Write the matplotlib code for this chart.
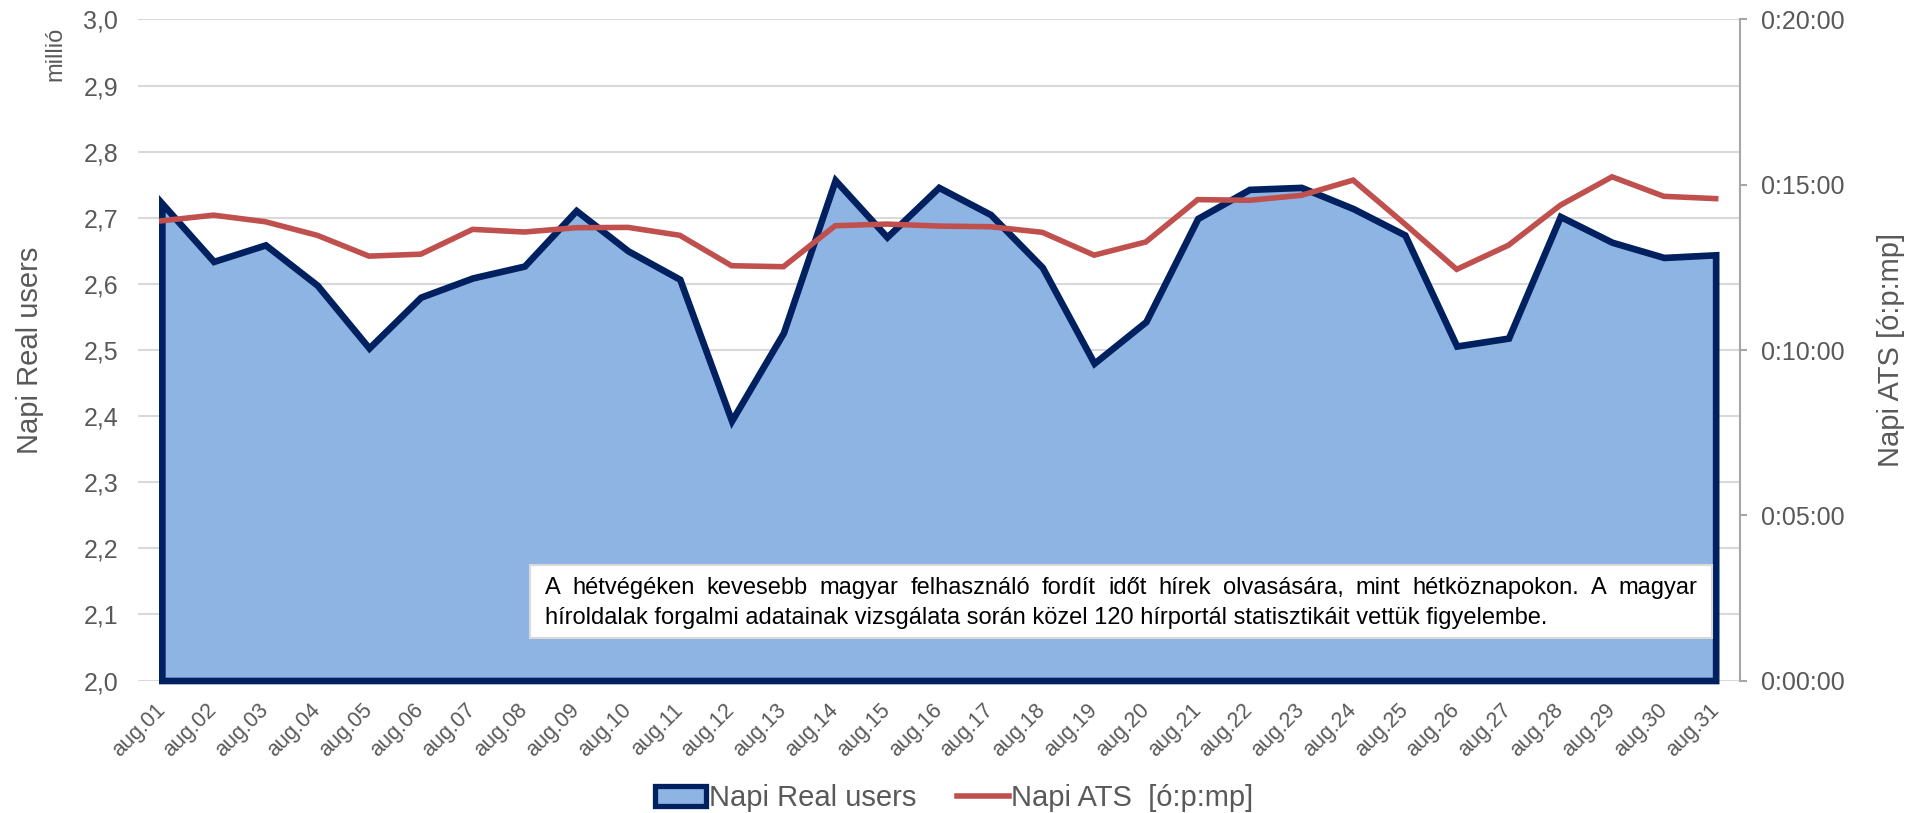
import matplotlib
matplotlib.use("Agg")
import matplotlib.pyplot as plt
import matplotlib.patches as mpatches
from matplotlib.lines import Line2D
from matplotlib.ticker import FuncFormatter, MultipleLocator
import numpy as np

plt.rcParams['font.family'] = ['Liberation Sans', 'DejaVu Sans']

# data
days = ["aug.%02d" % d for d in range(1, 32)]
users = [2.722, 2.634, 2.659, 2.598, 2.503, 2.580, 2.609, 2.627, 2.711, 2.650,
         2.607, 2.393, 2.526, 2.757, 2.671, 2.746, 2.705, 2.625, 2.480, 2.543,
         2.699, 2.743, 2.746, 2.714, 2.674, 2.506, 2.518, 2.702, 2.663, 2.640,
         2.644]
# average time spent, minutes
ats_min = [13.91, 14.08, 13.88, 13.47, 12.84, 12.90, 13.65, 13.57, 13.70, 13.71,
           13.47, 12.55, 12.52, 13.76, 13.81, 13.75, 13.73, 13.56, 12.87, 13.27,
           14.55, 14.53, 14.68, 15.14, 13.81, 12.44, 13.17, 14.38, 15.24, 14.65,
           14.58]

note_line1 = "A hétvégéken kevesebb magyar felhasználó fordít időt hírek olvasására, mint hétköznapokon. A magyar"
note_line2 = "híroldalak forgalmi adatainak vizsgálata során közel 120 hírportál statisztikáit vettük figyelembe."

AREA = '#8EB4E3'
NAVY = '#002060'
RED = '#C0504D'
GREY = '#595959'

W, H = 1909, 813
fig = plt.figure(figsize=(W / 100, H / 100), dpi=100)
ax = fig.add_axes([137.5 / W, 1 - 680.5 / H, (1740 - 137.5) / W, (680.5 - 19.5) / H])
ax2 = ax.twinx()

x = np.arange(len(days))
ats_sec = np.array(ats_min) * 60

ax.fill_between(x, 2.0, users, facecolor=AREA, edgecolor=NAVY, linewidth=4.8,
                joinstyle='miter', clip_on=False, zorder=2)
ax2.plot(x, ats_sec, color=RED, linewidth=4.0, solid_joinstyle='miter', zorder=3)

ax.set_xlim(-0.47, 30.47)
ax.set_ylim(2.0, 3.0)
ax2.set_ylim(0, 1200)

ax.set_axisbelow(True)
ax.yaxis.set_major_locator(MultipleLocator(0.1))
ax.yaxis.set_major_formatter(FuncFormatter(lambda v, p: ("%.1f" % v).replace('.', ',')))
ax.grid(axis='y', color='#D9D9D9', linewidth=1.5)
ax.tick_params(axis='y', length=0, pad=14, labelsize=18, labelcolor=GREY)

ax.set_xticks(x)
ax.set_xticklabels(days, rotation=45, ha='right', va='center', rotation_mode='anchor')
ax.tick_params(axis='x', length=0, pad=19, labelsize=15.5, labelcolor=GREY)

for s in ['top', 'left', 'right', 'bottom']:
    ax.spines[s].set_visible(False)
for s in ['top', 'left', 'bottom']:
    ax2.spines[s].set_visible(False)
ax2.spines['right'].set_color('#A6A6A6')
ax2.spines['right'].set_linewidth(1.5)

ax2.yaxis.set_major_locator(MultipleLocator(300))
ax2.yaxis.set_major_formatter(FuncFormatter(
    lambda s, p: "%d:%02d:%02d" % (s // 3600, (s % 3600) // 60, s % 60)))
ax2.tick_params(axis='y', length=5, width=1.5, color='#A6A6A6', pad=10,
                labelsize=18, labelcolor=GREY)

ax.set_ylabel("Napi Real users", fontsize=21, color=GREY)
ax.yaxis.set_label_coords(-0.0585, 0.5)
ax2.set_ylabel("Napi ATS [ó:p:mp]", fontsize=21, color=GREY, rotation=90)
ax2.yaxis.set_label_coords(1.0855, 0.5)

fig.text(55 / W, 1 - 54 / H, "millió", rotation=90, fontsize=17, color=GREY,
         ha='center', va='center')

# note box
bx0, bx1, by0, by1 = 530, 1712, 565, 638
box = mpatches.Rectangle((bx0 / W, 1 - by1 / H), (bx1 - bx0) / W, (by1 - by0) / H,
                         transform=fig.transFigure, facecolor='white',
                         edgecolor='#D9D9D9', linewidth=1.5, zorder=10)
fig.patches.append(box)

fs_note = 17
fig.canvas.draw()
renderer = fig.canvas.get_renderer()
tx0, tx1 = 545, 1697
words = note_line1.split(' ')
widths = []
tmp = []
for w in words:
    t = fig.text(0, 0, w, fontsize=fs_note, color='black')
    widths.append(t.get_window_extent(renderer).width)
    tmp.append(t)
for t in tmp:
    t.remove()
gap = (tx1 - tx0 - sum(widths)) / (len(words) - 1)
xpos = tx0
for w, wd in zip(words, widths):
    fig.text(xpos / W, 1 - 594 / H, w, fontsize=fs_note, color='black',
             va='baseline', ha='left', zorder=11)
    xpos += wd + gap
fig.text(tx0 / W, 1 - 624 / H, note_line2, fontsize=fs_note, color='black',
         va='baseline', ha='left', zorder=11)

handles = [mpatches.Patch(facecolor=AREA, edgecolor=NAVY, linewidth=3.8),
           Line2D([0], [0], color=RED, linewidth=4.0)]
fig.legend(handles, ["Napi Real users", "Napi ATS  [ó:p:mp]"], loc='center',
           bbox_to_anchor=(0.5, 1 - 798 / H), ncol=2, frameon=False,
           fontsize=21, labelcolor=GREY, handlelength=1.75, handletextpad=0.1,
           columnspacing=1.4)

fig.savefig("out.png", dpi=100)
